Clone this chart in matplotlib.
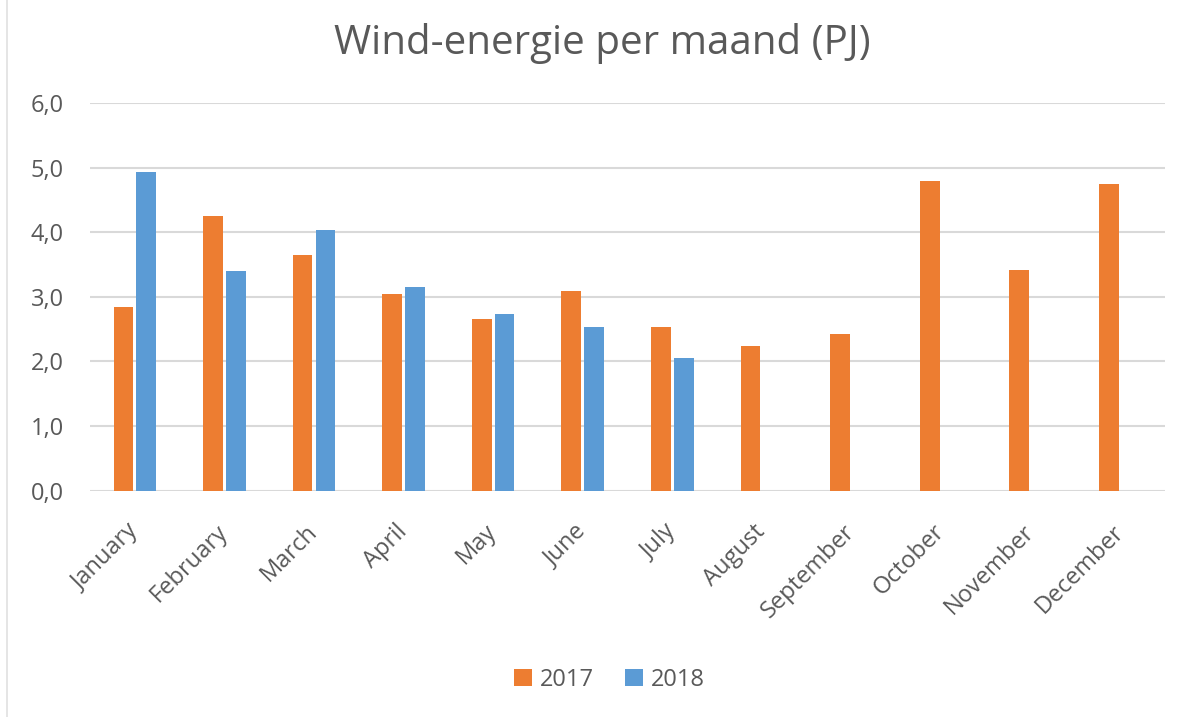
import numpy as np
import matplotlib.pyplot as plt
from matplotlib.lines import Line2D

months = ["January", "February", "March", "April", "May", "June", "July",
          "August", "September", "October", "November", "December"]
wind_2017 = [2.84, 4.25, 3.65, 3.05, 2.66, 3.09, 2.53, 2.24, 2.43, 4.79, 3.42, 4.75]
wind_2018 = [4.94, 3.40, 4.04, 3.15, 2.73, 2.53, 2.05, np.nan, np.nan, np.nan, np.nan, np.nan]
y_ticks = [0, 1, 2, 3, 4, 5, 6]

plt.rcParams['font.family'] = ['Open Sans', 'DejaVu Sans']
grey = '#595959'
orange = '#ED7D31'
blue = '#5B9BD5'

fig = plt.figure(figsize=(11.84, 7.17), dpi=100)
ax = fig.add_axes([0.076, 0.3156, 0.908, 0.5407])

x = np.arange(len(months))
w = 0.22
gap = 0.035
ax.bar(x - (w + gap) / 2, wind_2017, width=w, color=orange, label="2017", zorder=3)
ax.bar(x + (w + gap) / 2, wind_2018, width=w, color=blue, label="2018", zorder=3)

ax.set_xlim(-0.5, len(months) - 0.5)
ax.set_ylim(0, 6)
ax.set_yticks(y_ticks)
ax.set_yticklabels([f"{v:.1f}".replace(".", ",") for v in y_ticks], fontsize=17, color=grey)
ax.set_xticks(x)
ax.set_xticklabels(months, rotation=45, ha='right', va='center', rotation_mode='anchor',
                   fontsize=17, color=grey)
ax.tick_params(axis='both', length=0)
ax.tick_params(axis='y', pad=19)
ax.tick_params(axis='x', pad=27)
ax.yaxis.grid(True, color='#d9d9d9', linewidth=1.5, zorder=0)
for s in ax.spines.values():
    s.set_visible(False)

fig.text(0.509, 0.94, "Wind-energie per maand (PJ)", ha='center', va='center',
         fontsize=29, color=grey)

fig.legend(loc='center', bbox_to_anchor=(0.515, 0.052), ncol=2, frameon=False,
           fontsize=17, handlelength=0.75, handleheight=0.75, handletextpad=0.35,
           columnspacing=1.3, labelcolor=grey)

# thin border on the left edge, as in the original screenshot
fig.add_artist(Line2D([0.006, 0.006], [0, 1], color='#e0e0e0', linewidth=1.2,
                      transform=fig.transFigure))

fig.savefig("out.png", dpi=100)
